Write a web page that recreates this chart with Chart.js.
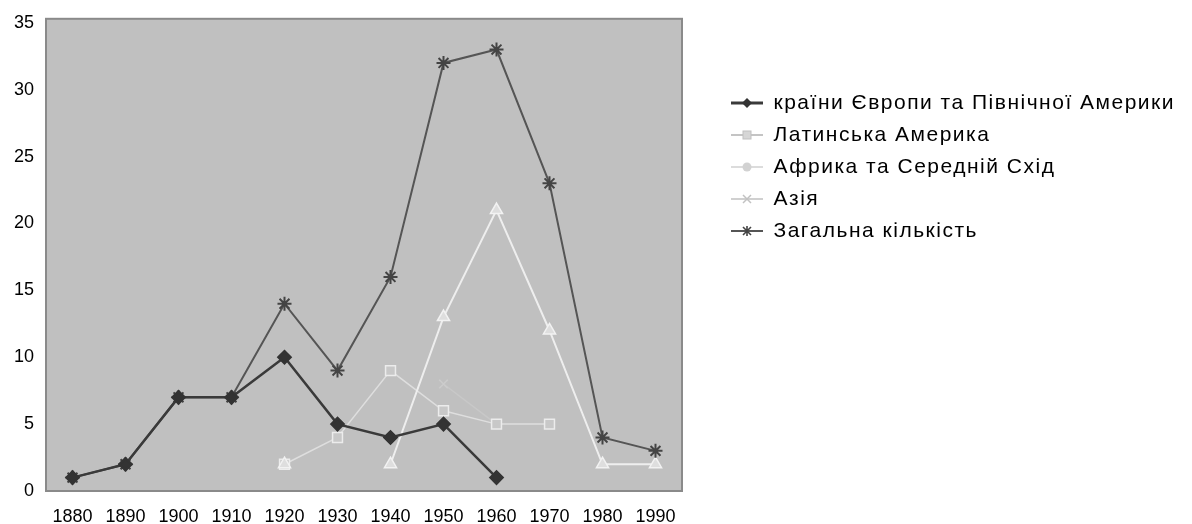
<!DOCTYPE html>
<html>
<head>
<meta charset="utf-8">
<script src="https://cdn.jsdelivr.net/npm/chart.js@4"></script>
<style>
  html, body { margin: 0; padding: 0; background: #fff; }
  #wrap { width: 1192px; height: 524px; }
</style>
</head>
<body>
<div id="wrap"><canvas id="chart" width="1192" height="524"></canvas></div>
<script>
// data
const years = ['1880', '1890', '1900', '1910', '1920', '1930', '1940', '1950', '1960', '1970', '1980', '1990'];
const seriesNames = [
  'країни Європи та Північної Америки',
  'Латинська Америка',
  'Африка та Середній Схід',
  'Азія',
  'Загальна кількість'
];
const europe = [1, 2, 7, 7, 10, 5, 4, 5, 1, null, null, null];
const latinAmerica = [null, null, null, null, 2, 4, 9, 6, 5, 5, null, null];
const africa = [null, null, null, null, 2, null, 2, 13, 21, 12, 2, 2];
const asia = [null, null, null, null, null, null, null, 8, 5, null, null, null];
const total = [1, 2, 7, 7, 14, 9, 16, 32, 33, 23, 4, 3];
const yTicks = [0, 5, 10, 15, 20, 25, 30, 35];

const FONT = "'Liberation Sans', Arial, sans-serif";
const FONT_SIZE = 18;
const LEGEND_SIZE = 21;
const LEGEND_SPACING = '1.5px';

// small line+marker glyphs for the legend
function legendIcon(lineColor, lineWidth, drawMarker) {
  const c = document.createElement('canvas');
  c.width = 32; c.height = 16;
  const g = c.getContext('2d');
  g.strokeStyle = lineColor;
  g.lineWidth = lineWidth;
  g.beginPath(); g.moveTo(0, 8); g.lineTo(32, 8); g.stroke();
  drawMarker(g, 16, 8);
  return c;
}

const icons = [
  legendIcon('#3a3a3a', 3, (g, x, y) => {
    g.fillStyle = '#333';
    g.beginPath(); g.moveTo(x, y - 5); g.lineTo(x + 5, y); g.lineTo(x, y + 5); g.lineTo(x - 5, y); g.closePath(); g.fill();
  }),
  legendIcon('#c4c4c4', 2, (g, x, y) => {
    g.fillStyle = '#d6d6d6'; g.strokeStyle = '#c0c0c0'; g.lineWidth = 1;
    g.fillRect(x - 4, y - 4, 8, 8); g.strokeRect(x - 4, y - 4, 8, 8);
  }),
  legendIcon('#dcdcdc', 2, (g, x, y) => {
    g.fillStyle = '#d2d2d2';
    g.beginPath(); g.arc(x, y, 4.5, 0, Math.PI * 2); g.fill();
  }),
  legendIcon('#d0d0d0', 2, (g, x, y) => {
    g.strokeStyle = '#c2c2c2'; g.lineWidth = 1.5;
    g.beginPath(); g.moveTo(x - 4, y - 4); g.lineTo(x + 4, y + 4); g.moveTo(x + 4, y - 4); g.lineTo(x - 4, y + 4); g.stroke();
  }),
  legendIcon('#555', 2, (g, x, y) => {
    g.strokeStyle = '#444'; g.lineWidth = 1.6;
    g.beginPath();
    g.moveTo(x - 4, y - 4); g.lineTo(x + 4, y + 4); g.moveTo(x + 4, y - 4); g.lineTo(x - 4, y + 4);
    g.moveTo(x, y - 5); g.lineTo(x, y + 5);
    g.stroke();
  })
];

// legend placement: icons start near x=731, plot ends near x=682
const measure = document.createElement('canvas').getContext('2d');
measure.font = LEGEND_SIZE + 'px ' + FONT;
measure.letterSpacing = LEGEND_SPACING;
const longest = Math.max(...seriesNames.map(n => measure.measureText(n).width));
const legendPad = 11;
const legendLeft = 720;
const legendWidth = legendPad + 32 + LEGEND_SIZE / 2 + longest + 10;
const padRight = Math.max(0, 1192 - legendLeft - legendWidth);
const plotRight = 682;

const plotFrame = {
  id: 'plotFrame',
  beforeDraw(chart) {
    const { ctx, chartArea: a } = chart;
    ctx.save();
    ctx.fillStyle = '#c0c0c0';
    ctx.fillRect(a.left, a.top - 4, a.right - a.left, a.bottom - a.top + 4);
    ctx.strokeStyle = '#8a8a8a';
    ctx.lineWidth = 2;
    ctx.strokeRect(a.left, a.top - 4, a.right - a.left, a.bottom - a.top + 4);
    ctx.restore();
  }
};

// wider tracking for the legend text only
const legendSpacing = {
  id: 'legendSpacing',
  afterInit(chart) {
    const lg = chart.legend;
    ['fit', 'draw'].forEach(fn => {
      const orig = lg[fn].bind(lg);
      lg[fn] = function (...args) {
        const prev = chart.ctx.letterSpacing;
        chart.ctx.letterSpacing = LEGEND_SPACING;
        const r = orig(...args);
        chart.ctx.letterSpacing = prev;
        return r;
      };
    });
  }
};

Chart.defaults.font.family = FONT;
Chart.defaults.font.size = FONT_SIZE;
Chart.defaults.color = '#000';

new Chart(document.getElementById('chart'), {
  type: 'line',
  data: {
    labels: years,
    datasets: [
      {
        label: seriesNames[0], data: europe, order: 0,
        borderColor: '#3a3a3a', borderWidth: 2.5, backgroundColor: '#333',
        pointStyle: 'rectRot', pointRadius: 6, pointBorderColor: '#333', pointBackgroundColor: '#333'
      },
      {
        label: seriesNames[1], data: latinAmerica, order: 3,
        borderColor: '#dedede', borderWidth: 1.5, backgroundColor: '#d4d4d4',
        pointStyle: 'rect', pointRadius: 7, pointBorderColor: '#ececec', pointBackgroundColor: '#c8c8c8', pointBorderWidth: 1.5
      },
      {
        label: seriesNames[2], data: africa, order: 2,
        borderColor: '#eeeeee', borderWidth: 2, backgroundColor: '#e8e8e8',
        pointStyle: 'triangle', pointRadius: 7, pointBorderColor: '#f2f2f2', pointBackgroundColor: '#dedede', pointBorderWidth: 1.5
      },
      {
        label: seriesNames[3], data: asia, order: 4,
        borderColor: '#c8c8c8', borderWidth: 1.5, backgroundColor: '#c8c8c8',
        pointStyle: 'crossRot', pointRadius: 6, pointBorderColor: '#cccccc', pointBorderWidth: 1.5
      },
      {
        label: seriesNames[4], data: total, order: 1,
        borderColor: '#555', borderWidth: 2, backgroundColor: '#444',
        pointStyle: 'star', pointRadius: 7, pointBorderColor: '#444', pointBorderWidth: 2
      }
    ]
  },
  options: {
    responsive: false,
    animation: false,
    layout: { padding: { left: 0, top: 17, bottom: 0, right: padRight } },
    scales: {
      x: {
        type: 'category',
        offset: true,
        grid: { display: false, drawTicks: false },
        border: { display: false },
        ticks: { padding: 15, maxRotation: 0, autoSkip: false, color: '#000' },
        afterFit(scale) { scale.height = 33; }
      },
      y: {
        min: 0, max: 35,
        grid: { display: false, drawTicks: false },
        border: { display: false },
        afterBuildTicks(scale) { scale.ticks = yTicks.map(v => ({ value: v })); },
        ticks: { padding: 12, color: '#000' },
        afterFit(scale) { scale.width = 46; }
      },
      gap: {
        type: 'linear', position: 'right', display: true,
        grid: { display: false, drawTicks: false },
        border: { display: false },
        ticks: { display: false },
        afterFit(scale) { scale.width = legendLeft - plotRight; }
      }
    },
    plugins: {
      tooltip: { enabled: false },
      legend: {
        position: 'right',
        align: 'start',
        maxWidth: 700,
        title: { display: true, text: '', font: { size: 10 }, padding: { top: 0, bottom: 52.5 } },
        labels: {
          usePointStyle: true,
          pointStyleWidth: 32,
          padding: legendPad,
          color: '#000',
          font: { size: LEGEND_SIZE },
          generateLabels(chart) {
            const items = Chart.defaults.plugins.legend.labels.generateLabels(chart);
            items.sort((a, b) => a.datasetIndex - b.datasetIndex);
            items.forEach(it => { it.pointStyle = icons[it.datasetIndex]; });
            return items;
          }
        }
      }
    }
  },
  plugins: [plotFrame, legendSpacing]
});
</script>
</body>
</html>
